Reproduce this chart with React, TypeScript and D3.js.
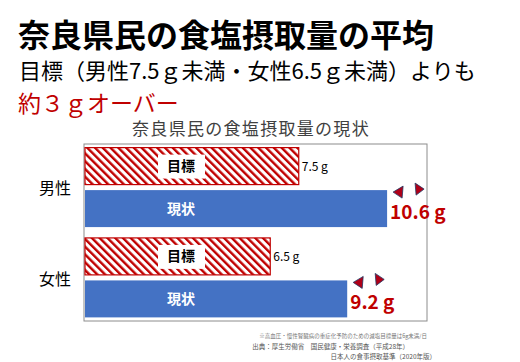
import React from 'react';
import * as d3 from 'd3';

const groups = ['男性', '女性'];
const targetValues = [7.5, 6.5];
const actualValues = [10.6, 9.2];
const targetLabels = ['7.5 g', '6.5 g'];
const actualLabels = ['10.6 g', '9.2 g'];
const footnotes = [
  '※高血圧・慢性腎臓病の重症化予防のための減塩目標量は6g未満/日',
  '出典：厚生労働省　国民健康・栄養調査（平成28年）',
  '日本人の食事摂取基準（2020年版）',
];

const W = 520;
const H = 362;
const font = '"Noto Sans CJK JP", "Noto Sans", sans-serif';
const red = '#c00000';
const blue = '#4472c4';

const App = () => {
  const plot = {left: 84, right: 427, top: 144, bottom: 321};
  const x = d3.scaleLinear().domain([0, 12]).range([plot.left + 1, plot.right]);
  const y = d3.scaleBand().domain(groups).range([plot.top, plot.bottom]).paddingInner(0.12).paddingOuter(0.04);
  const sub = d3.scaleBand().domain(['target', 'actual']).range([0, y.bandwidth()]).paddingInner(0.13);

  // little "pointer" triangles next to the current value
  const triLeft = (px: number, py: number) =>
    [[px, py], [px + 10, py - 6], [px + 9, py + 6]].map(p => p.join(',')).join(' ');
  const triRight = (px: number, py: number) =>
    [[px, py - 6], [px + 9, py], [px + 1, py + 6]].map(p => p.join(',')).join(' ');

  return (
    <svg width={W} height={H} style={{position: 'absolute', left: 0, top: 0, background: '#fff'}} fontFamily={font}>
      <defs>
        <pattern id="hatch" width="5.5" height="5.5" patternUnits="userSpaceOnUse" patternTransform="rotate(-45)">
          <rect width="5.5" height="5.5" fill="#fff" />
          <rect x="0" y="0" width="2.4" height="5.5" fill={red} />
        </pattern>
      </defs>
      <rect width={W} height={H} fill="#fff" />

      <text x={18} y={47} fontSize={32} fontWeight="bold" fill="#000">奈良県民の食塩摂取量の平均</text>
      <text x={19} y={79} fontSize={22} fill="#000">目標（男性7.5ｇ未満・女性6.5ｇ未満）よりも</text>
      <text x={18} y={112} fontSize={23} fill={red}>約３ｇオーバー</text>
      <text x={251} y={135} fontSize={17} letterSpacing={1.3} fill="#404040" textAnchor="middle">奈良県民の食塩摂取量の現状</text>

      <rect x={plot.left} y={plot.top} width={plot.right - plot.left} height={plot.bottom - plot.top} fill="none" stroke="#8c8c8c" strokeWidth={1} />

      {groups.map((g, i) => {
        const y0 = y(g)!;
        const ty = y0 + sub('target')!;
        const ay = y0 + sub('actual')!;
        const bh = sub.bandwidth();
        const tEnd = x(targetValues[i]);
        const aEnd = x(actualValues[i]);
        const labelX = x(0) + 96;
        return (
          <g key={g}>
            <text x={39} y={y0 + y.bandwidth() / 2 + 7} fontSize={16} fill="#000">{g}</text>
            <rect x={x(0)} y={ty} width={tEnd - x(0)} height={bh} fill="url(#hatch)" stroke={red} strokeWidth={1.2} />
            <rect x={labelX - 23} y={ty + 7} width={47} height={bh - 13} fill="#fff" />
            <text x={labelX} y={ty + bh / 2 + 5} fontSize={14} fontWeight="bold" textAnchor="middle" fill="#000">目標</text>
            <text x={tEnd + 3} y={ty + bh / 2 + 5} fontSize={12} fill="#000">{targetLabels[i]}</text>
            <rect x={x(0)} y={ay} width={aEnd - x(0)} height={bh} fill={blue} />
            <text x={labelX} y={ay + bh / 2 + 5} fontSize={14} fontWeight="bold" textAnchor="middle" fill="#fff">現状</text>
            <text x={aEnd + 3} y={ay + bh / 2 + 10} fontSize={19} fontWeight="bold" fill={red}>{actualLabels[i]}</text>
            <polygon points={triLeft(aEnd + 6, ay + 2)} fill="#b00018" stroke="#1f3864" strokeWidth={0.8} />
            <polygon points={triRight(aEnd + 28, ay - 1)} fill="#b00018" stroke="#1f3864" strokeWidth={0.8} />
          </g>
        );
      })}

      <text x={427} y={338} fontSize={5.5} fill="#777" textAnchor="end">{footnotes[0]}</text>
      <text x={409} y={349} fontSize={6.5} fill="#555" textAnchor="end">{footnotes[1]}</text>
      <text x={436} y={359} fontSize={6.5} fill="#555" textAnchor="end">{footnotes[2]}</text>
    </svg>
  );
};

export default App;
